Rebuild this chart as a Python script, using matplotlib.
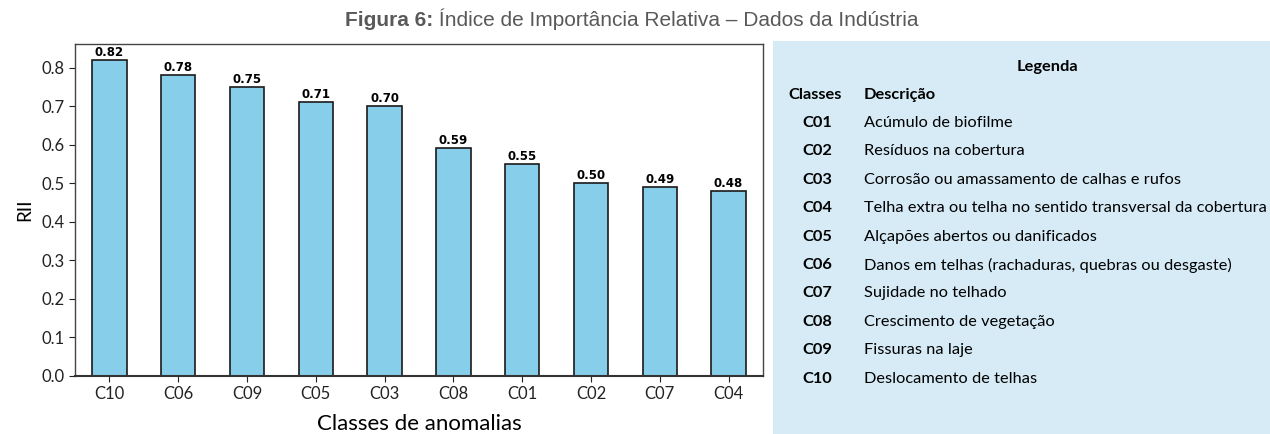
import matplotlib
matplotlib.use('Agg')
import matplotlib.pyplot as plt
from matplotlib.patches import Rectangle

# dados do grafico (ordenados por RII)
classes = ['C10', 'C06', 'C09', 'C05', 'C03', 'C08', 'C01', 'C02', 'C07', 'C04']
rii = [0.82, 0.78, 0.75, 0.71, 0.70, 0.59, 0.55, 0.50, 0.49, 0.48]
yticks = [0.0, 0.1, 0.2, 0.3, 0.4, 0.5, 0.6, 0.7, 0.8]

# legenda
leg_codes = ['C01', 'C02', 'C03', 'C04', 'C05', 'C06', 'C07', 'C08', 'C09', 'C10']
leg_desc = [
    'Acúmulo de biofilme',
    'Resíduos na cobertura',
    'Corrosão ou amassamento de calhas e rufos',
    'Telha extra ou telha no sentido transversal da cobertura',
    'Alçapões abertos ou danificados',
    'Danos em telhas (rachaduras, quebras ou desgaste)',
    'Sujidade no telhado',
    'Crescimento de vegetação',
    'Fissuras na laje',
    'Deslocamento de telhas',
]

W, H = 1270, 434
fig = plt.figure(figsize=(W / 100, H / 100), dpi=100)
fig.patch.set_facecolor('white')

# grafico de barras
ax = fig.add_axes([75 / W, 1 - 376 / H, (763 - 75) / W, (376 - 44) / H])
x = range(len(classes))
ax.bar(x, rii, width=0.5, color='#87CEEB', edgecolor='#1a1a1a', linewidth=1.2)
for xi, v in zip(x, rii):
    ax.text(xi, v + 0.003, f'{v:.2f}', ha='center', va='bottom',
            fontsize=8.5, fontweight='bold', family='DejaVu Sans')

ax.set_xlim(-0.5, len(classes) - 0.5)
ax.set_ylim(0, 0.861)
ax.set_xticks(list(x))
ax.set_xticklabels(classes)
ax.set_yticks(yticks)
ax.set_yticklabels([f'{t:.1f}' for t in yticks])
ax.tick_params(labelsize=12, colors='#222222', length=4)
for lab in ax.get_xticklabels() + ax.get_yticklabels():
    lab.set_family('Lato')
ax.set_xlabel('Classes de anomalias', fontsize=16, family='Lato', labelpad=8)
ax.set_ylabel('RII', fontsize=13.5, family='Lato', labelpad=6)
for sp in ax.spines.values():
    sp.set_color('#444444')
    sp.set_linewidth(1.0)
ax.spines['bottom'].set_color('#333333')
ax.spines['bottom'].set_linewidth(1.5)

# titulo (parte em negrito + resto)
t1 = fig.text(345 / W, 1 - 26 / H, 'Figura 6:', fontsize=15, fontweight='bold',
              color='#595959', family='Liberation Sans', ha='left', va='baseline')
ax.annotate(' Índice de Importância Relativa – Dados da Indústria',
            xy=(1, 0), xycoords=t1, va='bottom', ha='left',
            fontsize=15, color='#595959', family='Liberation Sans',
            annotation_clip=False)

# painel da legenda
fig.patches.append(Rectangle((773 / W, 0), 1 - 773 / W, 1 - 41 / H,
                             transform=fig.transFigure, facecolor='#D6EBF6',
                             edgecolor='none', zorder=0))
fs = 11.8
fig.text(1047 / W, 1 - 67 / H, 'Legenda', fontsize=fs, fontweight='bold',
         family='Lato', ha='center', va='center')
fig.text(788 / W, 1 - 95 / H, 'Classes', fontsize=fs, fontweight='bold',
         family='Lato', ha='left', va='center')
fig.text(864 / W, 1 - 95 / H, 'Descrição', fontsize=fs, fontweight='bold',
         family='Lato', ha='left', va='center')
for i, (c, d) in enumerate(zip(leg_codes, leg_desc)):
    y = 1 - (123 + 28.4 * i) / H
    fig.text(802 / W, y, c, fontsize=fs, fontweight='bold', family='Lato',
             ha='left', va='center')
    fig.text(864 / W, y, d, fontsize=fs, family='Lato', ha='left', va='center')

fig.savefig('out.png', dpi=100)
